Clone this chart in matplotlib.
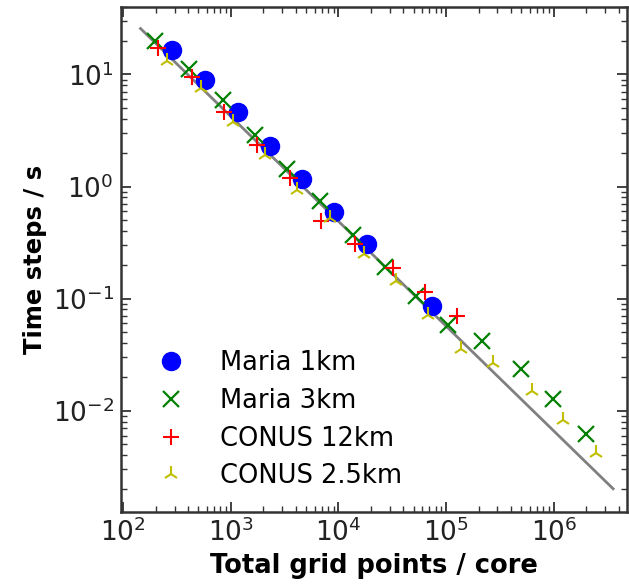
import matplotlib
matplotlib.use('Agg')
import matplotlib.pyplot as plt

# timing per step vs. grid points per core
maria1_x = [287, 572, 1161, 2312, 4613, 9180, 18270, 74000]
maria1_y = [16.7, 9.0, 4.58, 2.28, 1.16, 0.598, 0.31, 0.0865]

maria3_x = [199, 405, 841, 1675, 3335, 6790, 13520, 26900, 52500, 104500,
            217000, 491000, 979000, 1.99e6]
maria3_y = [19.7, 11.3, 5.98, 2.91, 1.42, 0.75, 0.373, 0.193, 0.106, 0.0586,
            0.0422, 0.0237, 0.0128, 0.0062]

conus12_x = [212, 432, 861, 1750, 3560, 6930, 14100, 32000, 63700, 127000]
conus12_y = [17.1, 9.4, 4.67, 2.37, 1.18, 0.497, 0.31, 0.189, 0.115, 0.0705]

conus25_x = [258, 525, 1045, 2080, 4140, 8410, 17100, 34100, 67900, 138000,
             275000, 622000, 1.21e6, 2.47e6]
conus25_y = [13.1, 7.5, 3.73, 1.93, 0.94, 0.528, 0.25, 0.145, 0.072, 0.0358,
             0.0268, 0.0151, 0.0083, 0.0042]

# ideal scaling line
ideal_x = [145, 3.56e6]
ideal_y = [25.7, 0.00201]

fig = plt.figure(figsize=(6.29, 5.85), dpi=100)
ax = fig.add_axes([0.192, 0.125, 0.805, 0.863])

ax.plot(ideal_x, ideal_y, '-', color='gray', lw=2)
ax.plot(maria1_x, maria1_y, 'o', color='blue', ms=13, label='Maria 1km')
ax.plot(maria3_x, maria3_y, 'x', color='green', ms=12, mew=1.6, label='Maria 3km')
ax.plot(conus12_x, conus12_y, '+', color='red', ms=11, mew=1.5, label='CONUS 12km')
ax.plot(conus25_x, conus25_y, '2', color='y', ms=11, mew=1.5, label='CONUS 2.5km')

ax.set_xscale('log')
ax.set_yscale('log')
ax.set_xlim(95, 4.8e6)
ax.set_ylim(1.25e-3, 40)

ax.tick_params(which='both', direction='in', top=True, right=True, labelsize=19,
               labelcolor='#222222', color='#333333')
ax.tick_params(which='major', length=7, width=1.3, pad=5)
ax.tick_params(which='minor', length=4, width=1)
for s in ax.spines.values():
    s.set_linewidth(1.8)
    s.set_color('#333333')

ax.set_xlabel('Total grid points / core', fontsize=18.5, fontweight='bold', labelpad=4)
ax.set_ylabel('Time steps / s', fontsize=17.5, fontweight='bold', labelpad=4)

ax.legend(loc='lower left', frameon=False, fontsize=18.5, numpoints=1,
          labelspacing=0.45, handlelength=2.0, handletextpad=0.9,
          borderpad=0, borderaxespad=0, bbox_to_anchor=(0.049, 0.045))

plt.savefig('out.png', dpi=100)
